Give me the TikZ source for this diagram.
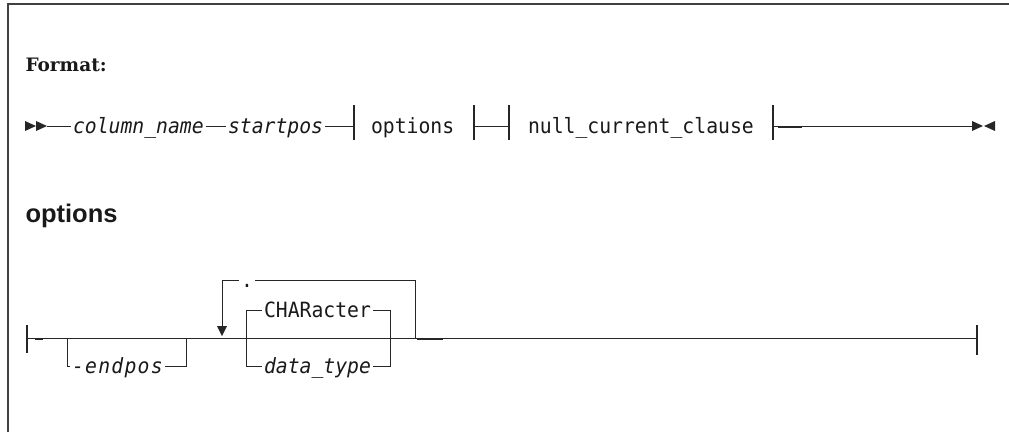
\documentclass[tikz,border=0pt]{standalone}
\usepackage{fontspec}
\newfontfamily\monof[FakeStretch=0.94]{DejaVu Sans Mono}
\newfontfamily\hdsans{Liberation Sans}
\newfontfamily\hdserif{DejaVu Serif}
\begin{document}
\begin{tikzpicture}[x=1pt,y=-1pt,line width=1pt,
  ink/.style={draw=black!85},
  txt/.style={inner xsep=1.5pt,inner ysep=0pt,anchor=west,text height=14pt,text depth=0pt,
    font=\monof\fontsize{21}{21}\selectfont,text=black!90},
  itxt/.style={txt,font=\monof\itshape\fontsize{21}{21}\selectfont},
  tip/.style={fill=black!85,draw=none},
  bar/.style={ink,line width=1.2pt},
  blob/.style={ink,line width=2pt}]
\useasboundingbox (0,0) rectangle (1009,432);
% frame
\draw[line width=1.4pt,draw=black!75] (8,432) -- (8,4) -- (1009,4);
% headings
\node[anchor=base west,inner sep=0pt,font=\hdserif\bfseries\fontsize{18.5}{18.5}\selectfont,text=black!90] (fmt) at (25,71) {Format:};
\node[anchor=base west,inner sep=0pt,font=\hdsans\bfseries\fontsize{25.5}{25.5}\selectfont,text=black!90] (opthd) at (25,222) {options};
% ---------- top row (y = 126)
\fill[tip] (25,121) -- (36,126) -- (25,131) -- cycle;
\fill[tip] (36,121) -- (47,126) -- (36,131) -- cycle;
\coordinate (s0) at (47,126);
\node[itxt] (colname) at (71,126) {column\_name};
\node[itxt] (startpos) at (226,126) {startpos};
\coordinate (b1) at (354,126);
\node[txt] (optref) at (369,126) {options};
\coordinate (b2) at (474,126);
\coordinate (b3) at (509,126);
\node[txt] (nullref) at (526,126) {null\_current\_clause};
\coordinate (b4) at (773,126);
\coordinate (e0) at (972,126);
\draw[ink] (s0) -- (colname.west);
\draw[ink] (colname.east) -- (startpos.west);
\draw[ink] (startpos.east) -- (b1);
\draw[ink] (b2) -- (b3);
\draw[ink] (b4) -- (e0);
\draw[blob] (778,126.5) -- (802,126.5);
\foreach \b in {b1,b2,b3,b4} \draw[bar] ([yshift=-14pt]\b) -- ([yshift=21pt]\b);
\fill[tip] (972,121) -- (983,126) -- (972,131) -- cycle;
\fill[tip] (995,121) -- (984,126) -- (995,131) -- cycle;
% ---------- options row (y = 338)
\coordinate (L) at (27,338);
\coordinate (R) at (977,338);
\draw[ink] (L) -- (R);
\draw[bar] (27,325) -- (27,353);
\draw[bar] (977,325) -- (977,355);
\draw[blob] (35,338.5) -- (43,338.5);
% optional -endpos
\node[itxt,font=\monof\itshape\fontsize{21}{21}\selectfont\addfontfeatures{LetterSpace=6}] (endpos) at (70,366) {-endpos};
\draw[ink] (67,338) -- (67,366) -- (endpos.west);
\draw[ink] (endpos.east) -- (186,366) -- (186,338);
% choice
\node[txt] (char) at (262,310) {CHARacter};
\node[itxt] (dtype) at (262,366) {data\_type};
\draw[ink] (char.west) -- (246,310) -- (246,366) -- (dtype.west);
\draw[ink] (char.east) -- (390,310) -- (390,366) -- (dtype.east);
% repeat loop with separator
\node[txt] (sep) at (239,280) {.};
\draw[ink] (415,338) -- (415,280) -- (sep.east);
\draw[ink] (sep.west) -- (222,280) -- (222,327);
\fill[tip] (217,326) -- (227,326) -- (222,336) -- cycle;
\draw[blob] (417,339) -- (443,339);
\end{tikzpicture}
\end{document}
